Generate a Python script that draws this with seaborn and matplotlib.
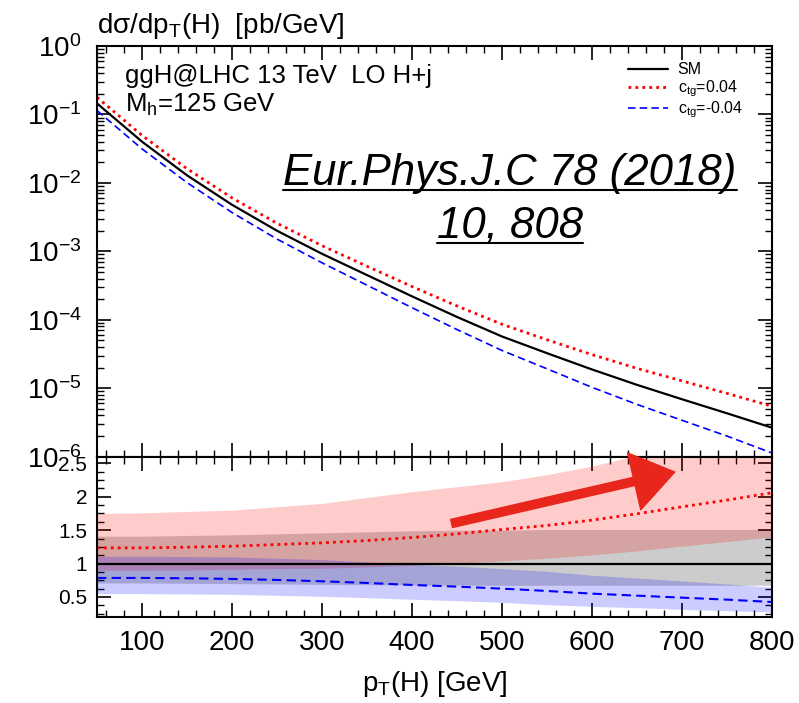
import matplotlib
matplotlib.use("Agg")
import numpy as np
import matplotlib.pyplot as plt
import seaborn as sns
from matplotlib.ticker import MultipleLocator, LogLocator, FuncFormatter, NullFormatter
from matplotlib.lines import Line2D

# pT(H) grid [GeV]
pt = [50, 100, 150, 200, 250, 300, 350, 400, 450, 500, 550, 600, 650, 700, 750, 800]

# dsigma/dpT [pb/GeV]
xsec_sm = [0.145, 0.040, 0.0129, 0.00479, 0.00200, 9.2e-4, 4.5e-4, 2.2e-4,
           1.1e-4, 5.7e-5, 3.25e-5, 1.88e-5, 1.12e-5, 6.9e-6, 4.3e-6, 2.65e-6]
xsec_up = [0.178, 0.0494, 0.0161, 0.00604, 0.00257, 1.21e-3, 6.05e-4, 3.06e-4,
           1.59e-4, 8.6e-5, 5.1e-5, 3.1e-5, 1.95e-5, 1.28e-5, 8.4e-6, 5.45e-6]
xsec_dn = [0.114, 0.0314, 0.0101, 0.00369, 0.00151, 6.8e-4, 3.2e-4, 1.5e-4,
           7.2e-5, 3.56e-5, 1.92e-5, 1.03e-5, 5.8e-6, 3.4e-6, 2.0e-6, 1.13e-6]

# ratio to SM
ratio_sm = [1.0, 1.0, 1.0, 1.0, 1.0, 1.0, 1.0, 1.0, 1.0, 1.0, 1.0, 1.0, 1.0, 1.0, 1.0, 1.0]
ratio_up = [1.235, 1.235, 1.245, 1.26, 1.285, 1.31, 1.345, 1.39,
            1.445, 1.51, 1.57, 1.65, 1.745, 1.85, 1.95, 2.06]
ratio_dn = [0.785, 0.785, 0.78, 0.77, 0.755, 0.735, 0.71, 0.68,
            0.655, 0.625, 0.59, 0.55, 0.52, 0.49, 0.46, 0.425]

# scale uncertainty bands
band_up_hi = [1.75, 1.76, 1.78, 1.80, 1.85, 1.90, 1.99, 2.075,
              2.15, 2.225, 2.33, 2.46, 2.62, 2.78, 2.94, 3.1]
band_up_lo = [0.90, 0.90, 0.905, 0.915, 0.925, 0.93, 0.95, 0.975,
              1.0, 1.04, 1.08, 1.13, 1.19, 1.26, 1.33, 1.40]
band_sm_hi = [1.41, 1.41, 1.42, 1.43, 1.445, 1.46, 1.475, 1.49,
              1.50, 1.50, 1.51, 1.51, 1.51, 1.51, 1.51, 1.51]
band_sm_lo = [0.71, 0.71, 0.705, 0.70, 0.695, 0.69, 0.685, 0.68,
              0.678, 0.675, 0.675, 0.675, 0.675, 0.675, 0.675, 0.675]
band_dn_hi = [1.11, 1.11, 1.105, 1.10, 1.08, 1.06, 1.025, 0.99,
              0.96, 0.925, 0.885, 0.825, 0.785, 0.74, 0.695, 0.645]
band_dn_lo = [0.55, 0.55, 0.545, 0.54, 0.525, 0.51, 0.49, 0.465,
              0.445, 0.42, 0.385, 0.36, 0.34, 0.315, 0.295, 0.275]

labels = ["SM", "c$_{tg}$=0.04", "c$_{tg}$=-0.04"]

sns.set_style("ticks")
plt.rcParams["font.family"] = ["Liberation Sans", "DejaVu Sans"]
plt.rcParams["mathtext.fontset"] = "custom"
plt.rcParams["mathtext.rm"] = "Liberation Sans"
plt.rcParams["mathtext.it"] = "Liberation Sans:italic"
plt.rcParams["mathtext.default"] = "regular"
plt.rcParams["axes.unicode_minus"] = False
for key in ["text.color", "axes.labelcolor", "xtick.color", "ytick.color", "axes.edgecolor"]:
    plt.rcParams[key] = "black"

fig = plt.figure(figsize=(7.99, 7.03), dpi=100)
ax1 = fig.add_axes([0.1214, 0.3504, 0.8448, 0.5842])
ax2 = fig.add_axes([0.1214, 0.1223, 0.8448, 0.2281], sharex=ax1)

dot = (0, (1, 1.5))
dash = (0, (4.5, 2.5))

# top panel
sns.lineplot(x=pt, y=xsec_sm, ax=ax1, color="black", lw=1.6, label=labels[0])
sns.lineplot(x=pt, y=xsec_up, ax=ax1, color="red", lw=2.0, linestyle=dot, label=labels[1])
sns.lineplot(x=pt, y=xsec_dn, ax=ax1, color="blue", lw=1.2, linestyle=dash, label=labels[2])

ax1.set_yscale("log")
ax1.set_xlim(50, 800)
ax1.set_ylim(1e-6, 1)
ax1.xaxis.set_major_locator(MultipleLocator(100))
ax1.xaxis.set_minor_locator(MultipleLocator(20))
ax1.yaxis.set_major_locator(LogLocator(base=10, numticks=10))
ax1.yaxis.set_minor_locator(LogLocator(base=10, subs=np.arange(2, 10), numticks=20))
ax1.yaxis.set_minor_formatter(NullFormatter())
ax1.tick_params(which="both", direction="in", top=True, right=True, labelbottom=False)
ax1.tick_params(which="major", length=10, width=1.2, labelsize=20, pad=11)
ax1.tick_params(which="minor", length=5, width=1.0)
ax1.set_xlabel("")
ax1.set_ylabel("")

ax1.legend(loc="upper left", bbox_to_anchor=(0.787, 0.96), frameon=False,
           fontsize=11.5, handlelength=2.5, handletextpad=0.6, labelspacing=0.05,
           borderpad=0, borderaxespad=0)

ax1.text(0.0, 1.032, "dσ/dp$_T$(H)  [pb/GeV]", transform=ax1.transAxes,
         fontsize=20, ha="left", va="baseline")
ax1.text(0.0415, 0.91, "ggH@LHC 13 TeV  LO H+j", transform=ax1.transAxes,
         fontsize=18.5, ha="left", va="baseline")
ax1.text(0.0415, 0.839, "M$_h$=125 GeV", transform=ax1.transAxes,
         fontsize=18.5, ha="left", va="baseline")

ref_lines = [("Eur.Phys.J.C 78 (2018)", 0.662), ("10, 808", 0.5325)]
ref_texts = []
for s, yy in ref_lines:
    t = ax1.text(0.612, yy, s, transform=ax1.transAxes, fontsize=31.5,
                 style="italic", ha="center", va="baseline")
    ref_texts.append((t, yy))

# bottom panel: ratio with bands
ax2.fill_between(pt, band_sm_lo, band_sm_hi, color="black", alpha=0.2, lw=0)
ax2.fill_between(pt, band_up_lo, band_up_hi, color="red", alpha=0.2, lw=0)
ax2.fill_between(pt, band_dn_lo, band_dn_hi, color="blue", alpha=0.2, lw=0)

sns.lineplot(x=pt, y=ratio_sm, ax=ax2, color="black", lw=1.6)
sns.lineplot(x=pt, y=ratio_up, ax=ax2, color="red", lw=2.0, linestyle=dot)
sns.lineplot(x=pt, y=ratio_dn, ax=ax2, color="blue", lw=1.5, linestyle=dash)

ax2.set_xlim(50, 800)
ax2.set_ylim(0.2, 2.6)
ax2.yaxis.set_major_locator(MultipleLocator(0.5))
ax2.yaxis.set_minor_locator(MultipleLocator(0.125))
ax2.yaxis.set_major_formatter(FuncFormatter(lambda v, p: "%g" % v))
ax2.tick_params(which="both", direction="in", top=True, right=True)
ax2.tick_params(which="major", length=10, width=1.2, labelsize=20, pad=9)
ax2.tick_params(axis="y", which="major", labelsize=15, pad=7)
ax2.tick_params(which="minor", length=5, width=1.0)
ax2.set_ylabel("")
ax2.set_xlabel("p$_T$(H) [GeV]", fontsize=20, labelpad=10)

ax2.annotate("", xy=(692, 2.37), xytext=(444, 1.60),
             arrowprops=dict(arrowstyle="simple,head_length=1.5,head_width=2.1,tail_width=0.3",
                             color="#e8261c", shrinkA=0, shrinkB=0, mutation_scale=20),
             annotation_clip=False)

for ax in (ax1, ax2):
    for sp in ax.spines.values():
        sp.set_linewidth(1.5)
        sp.set_color("black")

# underline the reference text
fig.canvas.draw()
r = fig.canvas.get_renderer()
W, H = fig.bbox.width, fig.bbox.height
for t, yy in ref_texts:
    bb = t.get_window_extent(r)
    base = ax1.transAxes.transform((0.612, yy))[1]
    yl = (base - 5) / H
    fig.add_artist(Line2D([bb.x0 / W, bb.x1 / W], [yl, yl], transform=fig.transFigure,
                          color="black", lw=1.5))

fig.savefig("out.png", dpi=100)
plt.close()
